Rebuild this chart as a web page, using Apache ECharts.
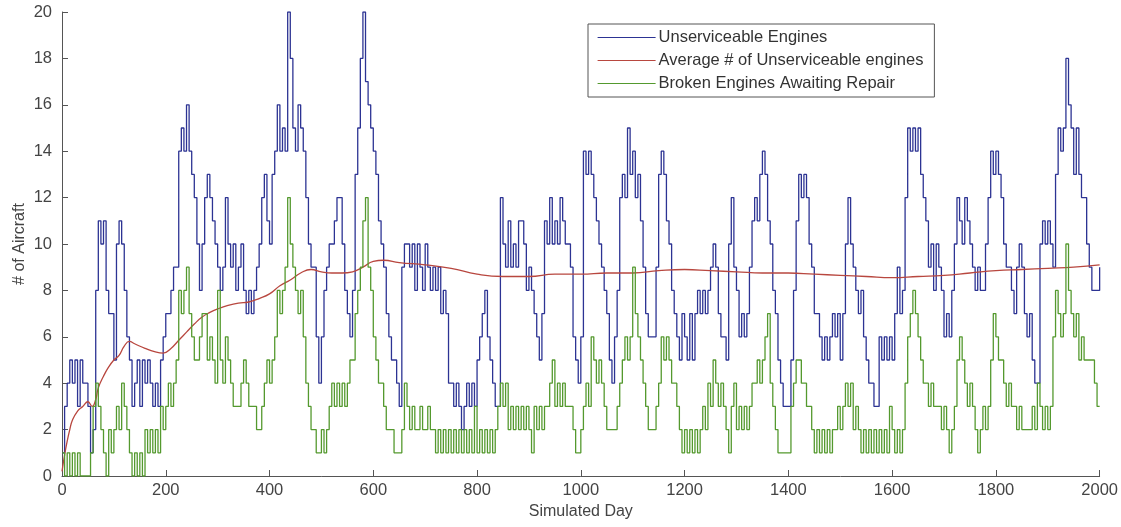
<!DOCTYPE html>
<html>
<head>
<meta charset="utf-8">
<script src="https://cdn.jsdelivr.net/npm/echarts@6/dist/echarts.min.js"></script>
<style>
  html, body { margin: 0; padding: 0; background: #fff; }
  #chart { width: 1121px; height: 527px; }
</style>
</head>
<body>
<div id="chart"></div>
<script>
// samples are read every 5 simulated days, starting at day 0
const DAY_STEP = 5

// Unserviceable Engines (blue)
const unserviceable = [
  1,3,4,5,4,5,3,5,4,4,3,1,2,8,11,10,11,8,7,7,
  5,10,11,10,8,6,5,3,4,5,3,5,4,5,4,3,4,3,5,6,
  7,7,8,9,9,14,15,14,16,14,13,12,10,8,10,12,13,12,11,10,
  9,8,9,12,10,9,10,8,9,10,8,7,8,7,8,9,10,12,13,11,
  10,13,14,16,14,15,14,20,18,15,14,16,15,14,12,10,9,9,6,4,
  6,8,9,10,10,11,12,12,10,8,7,6,8,13,15,18,20,17,16,15,
  14,13,11,10,9,7,6,5,5,4,3,9,10,10,9,10,8,10,9,8,
  10,9,8,9,8,9,7,8,7,4,4,3,4,3,2,3,4,3,4,3,
  5,6,7,8,6,5,4,3,3,12,10,9,11,9,10,9,11,11,10,8,
  9,8,7,6,5,7,11,10,12,10,11,10,12,11,10,10,9,6,5,4,
  6,14,13,14,13,12,11,10,9,8,7,5,4,6,8,12,13,12,15,13,
  14,12,13,11,9,7,6,6,6,9,13,14,13,11,10,8,7,6,5,7,
  6,5,7,5,7,8,7,8,7,8,9,10,9,7,6,6,5,10,12,9,
  8,6,7,6,7,9,11,12,11,13,14,13,11,10,8,7,5,4,3,3,
  3,5,8,11,13,12,13,12,10,9,7,7,6,5,6,5,6,7,6,7,
  5,7,10,12,10,9,8,7,8,6,5,4,4,3,3,6,5,6,5,6,
  5,7,9,7,8,12,15,14,15,14,15,13,12,11,9,10,8,10,9,8,
  6,7,6,8,10,12,11,10,12,11,10,9,8,9,8,8,10,12,14,13,
  14,13,12,10,9,9,8,7,9,10,9,7,6,7,5,4,4,10,11,10,
  11,10,9,13,15,14,15,18,16,15,13,15,13,12,12,10,9,8,8,8,
  9
]

// Broken Engines Awaiting Repair (green)
const broken = [
  1,0,1,0,1,0,1,0,0,0,0,1,3,4,3,2,1,0,2,1,
  2,3,2,4,3,2,1,0,1,0,1,0,2,1,2,1,2,1,3,2,
  3,4,3,4,5,8,7,8,9,7,6,5,5,6,7,7,5,6,5,4,
  8,5,4,6,5,4,3,3,3,4,5,4,3,3,3,2,2,3,4,5,
  4,5,6,8,7,8,9,12,10,9,8,7,8,6,4,3,2,2,1,1,
  2,1,2,3,4,3,4,3,4,3,4,5,5,7,8,9,11,12,9,8,
  6,5,4,4,3,2,2,2,1,1,1,2,4,3,2,3,2,2,3,2,
  2,3,2,2,1,2,1,2,1,2,1,2,1,2,1,2,1,2,1,3,
  1,2,1,2,1,2,1,2,3,4,3,4,2,3,2,3,2,3,2,3,
  2,1,3,2,3,2,3,3,4,5,3,4,3,4,3,3,3,2,1,1,
  2,3,4,3,6,5,4,5,4,3,2,2,2,2,3,4,5,6,5,6,
  9,7,6,5,4,3,2,2,2,3,4,6,5,6,5,4,4,3,2,1,
  2,1,2,1,2,1,2,3,2,4,3,5,4,3,4,3,2,1,3,4,
  2,3,2,3,2,3,4,4,5,4,5,6,7,4,3,2,1,1,1,1,
  1,3,4,5,5,4,4,3,3,2,1,2,1,2,1,2,1,2,2,3,
  2,3,4,3,4,2,3,2,1,2,1,2,1,2,1,2,1,2,1,3,
  2,1,2,1,2,4,6,7,8,7,6,5,4,4,3,4,3,3,3,2,
  3,2,1,2,3,5,6,5,4,3,4,3,2,1,2,3,2,3,5,7,
  6,5,5,4,3,4,3,3,2,3,2,2,2,2,3,2,4,3,2,3,
  2,3,6,8,7,6,7,10,8,7,6,7,5,6,5,5,5,5,4,3,
  3
]

// Average # of Unserviceable engines (red), read at these days
const avgDays = [0,5,10,15,20,30,40,50,58,65,70,80,90,100,110,120,130,140,160,180,195,
  210,225,240,255,270,285,300,320,340,360,380,400,420,440,460,480,500,520,540,560,580,
  600,620,650,700,750,800,850,900,950,1000,1050,1100,1150,1200,1250,1300,1350,1400,
  1450,1500,1550,1600,1650,1700,1750,1800,1850,1900,1950,2000]
const avgValues = [0.2,0.9,1.5,2.0,2.4,2.8,3.0,3.2,3.0,3.3,3.8,4.3,4.7,5.0,5.2,5.6,5.8,5.7,5.5,5.35,5.3,
  5.5,5.85,6.2,6.55,6.85,7.05,7.2,7.35,7.45,7.5,7.65,7.85,8.2,8.45,8.75,8.9,8.8,8.75,8.75,8.8,9.0,
  9.25,9.3,9.2,9.1,8.95,8.7,8.6,8.6,8.7,8.7,8.75,8.75,8.85,8.9,8.85,8.8,8.75,8.75,
  8.7,8.65,8.6,8.55,8.6,8.65,8.75,8.85,8.9,8.95,9.0,9.1]

const seriesNames = [
  'Unserviceable Engines',
  'Average # of Unserviceable engines',
  'Broken Engines Awaiting Repair'
]

const toPairs = (vals) => vals.map((v, i) => [i * DAY_STEP, v])

const font = 'Liberation Sans, Arial, sans-serif'
const axisColor = '#555'
const textColor = '#444'

const option = {
  animation: false,
  grid: { left: 62, right: 21, top: 12, bottom: 51 },
  legend: {
    orient: 'vertical',
    left: 588,
    top: 24,
    padding: [5, 11, 5, 9],
    itemGap: 6,
    itemWidth: 58,
    itemHeight: 16,
    borderColor: '#555',
    borderWidth: 1,
    data: seriesNames,
    // line sample only, no marker
    itemStyle: { opacity: 0 },
    lineStyle: { width: 1.2 },
    textStyle: { fontFamily: font, fontSize: 16.5, color: '#333', padding: [0, 0, 0, -2] }
  },
  xAxis: {
    type: 'value',
    min: 0,
    max: 2000,
    interval: 200,
    name: 'Simulated Day',
    nameLocation: 'middle',
    nameGap: 28,
    nameTextStyle: { fontFamily: font, fontSize: 16, color: textColor },
    axisLine: { lineStyle: { color: axisColor, width: 1 } },
    axisTick: { inside: true, length: 6, lineStyle: { color: axisColor } },
    axisLabel: {
      fontFamily: font, fontSize: 16.5, color: textColor, margin: 6,
      formatter: (v) => String(v)
    },
    splitLine: { show: false }
  },
  yAxis: {
    type: 'value',
    min: 0,
    max: 20,
    interval: 2,
    name: '# of Aircraft',
    nameLocation: 'middle',
    nameGap: 34,
    nameMoveOverlap: false,
    nameTextStyle: { fontFamily: font, fontSize: 16, color: textColor },
    axisLine: { show: true, lineStyle: { color: axisColor, width: 1 } },
    axisTick: { show: true, inside: true, length: 6, lineStyle: { color: axisColor } },
    axisLabel: { fontFamily: font, fontSize: 16.5, color: textColor, margin: 10 },
    splitLine: { show: false }
  },
  series: [
    {
      name: seriesNames[0],
      type: 'line',
      step: 'end',
      symbol: 'none',
      data: toPairs(unserviceable),
      lineStyle: { color: '#2c3393', width: 1.3 },
      itemStyle: { color: '#2c3393' }
    },
    {
      name: seriesNames[1],
      type: 'line',
      smooth: true,
      symbol: 'none',
      data: avgDays.map((d, i) => [d, avgValues[i]]),
      lineStyle: { color: '#b8473f', width: 1.3 },
      itemStyle: { color: '#b8473f' }
    },
    {
      name: seriesNames[2],
      type: 'line',
      step: 'end',
      symbol: 'none',
      data: toPairs(broken),
      lineStyle: { color: '#54992e', width: 1.3 },
      itemStyle: { color: '#54992e' }
    }
  ]
}

const chart = echarts.init(document.getElementById('chart'))
chart.setOption(option)
</script>
</body>
</html>
